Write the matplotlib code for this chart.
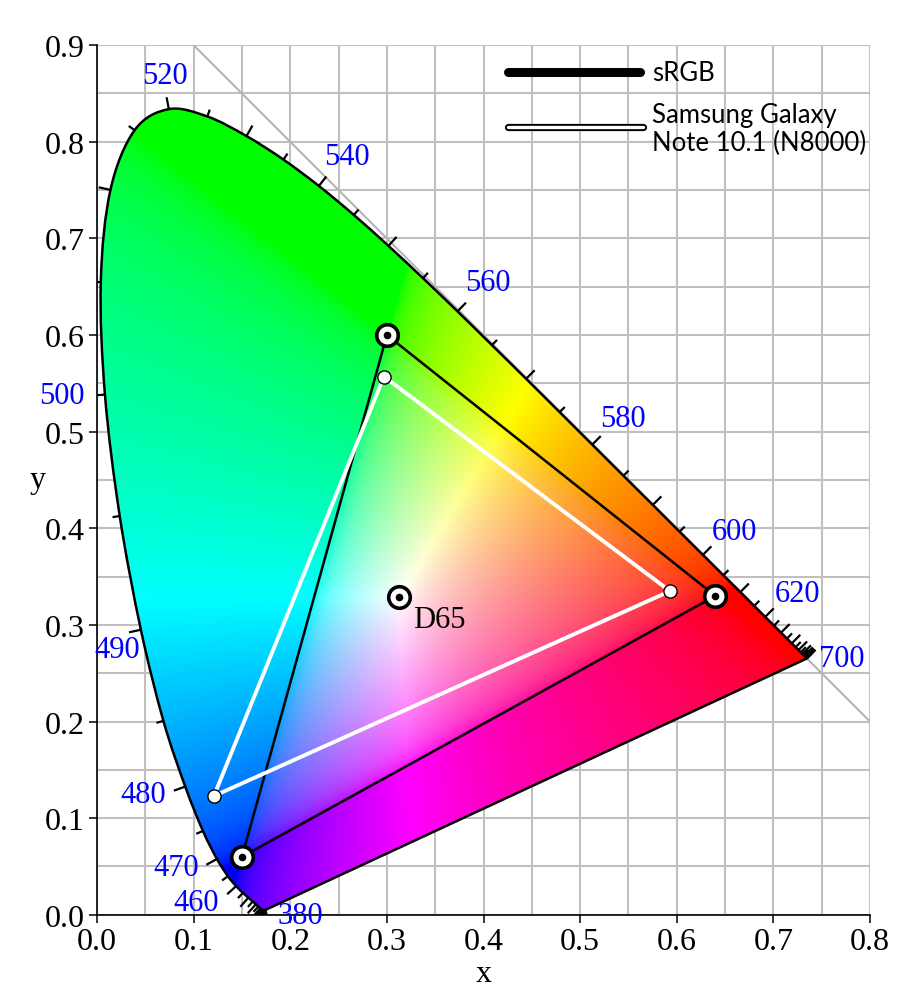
import numpy as np
import matplotlib
matplotlib.use("Agg")
import matplotlib.pyplot as plt
from matplotlib.patches import PathPatch
from matplotlib.path import Path

# CIE 1931 spectral locus, 380-700 nm every 5 nm
wl = np.arange(380, 701, 5)
loc_x = [0.1741, 0.1740, 0.1738, 0.1736, 0.1733, 0.1730, 0.1726, 0.1721, 0.1714,
         0.1703, 0.1689, 0.1669, 0.1644, 0.1611, 0.1566, 0.1510, 0.1440, 0.1355,
         0.1241, 0.1096, 0.0913, 0.0687, 0.0454, 0.0235, 0.0082, 0.0039, 0.0139,
         0.0389, 0.0743, 0.1142, 0.1547, 0.1929, 0.2296, 0.2658, 0.3016, 0.3373,
         0.3731, 0.4087, 0.4441, 0.4788, 0.5125, 0.5448, 0.5752, 0.6029, 0.6270,
         0.6482, 0.6658, 0.6801, 0.6915, 0.7006, 0.7079, 0.7140, 0.7190, 0.7230,
         0.7260, 0.7283, 0.7300, 0.7311, 0.7320, 0.7327, 0.7334, 0.7340, 0.7344,
         0.7346, 0.7347]
loc_y = [0.0050, 0.0050, 0.0049, 0.0049, 0.0048, 0.0048, 0.0048, 0.0048, 0.0051,
         0.0058, 0.0069, 0.0086, 0.0109, 0.0138, 0.0177, 0.0227, 0.0297, 0.0399,
         0.0578, 0.0868, 0.1327, 0.2007, 0.2950, 0.4127, 0.5384, 0.6548, 0.7502,
         0.8120, 0.8338, 0.8262, 0.8059, 0.7816, 0.7543, 0.7243, 0.6923, 0.6589,
         0.6245, 0.5896, 0.5547, 0.5202, 0.4866, 0.4544, 0.4242, 0.3965, 0.3725,
         0.3514, 0.3340, 0.3197, 0.3083, 0.2993, 0.2920, 0.2859, 0.2809, 0.2770,
         0.2740, 0.2717, 0.2700, 0.2689, 0.2680, 0.2673, 0.2666, 0.2660, 0.2656,
         0.2654, 0.2653]

# wavelengths that get a blue label, with label offsets (points)
label_wl = [380, 460, 470, 480, 490, 500, 520, 540, 560, 580, 600, 620, 700]
label_off = {380: (25, -4), 460: (-29, -12), 470: (-29, -6), 480: (-30, -6),
             490: (-17, -14), 500: (-31, -1), 520: (-3, 24), 540: (20, 21),
             560: (22, 21), 580: (22, 19), 600: (23, 17), 620: (23, 17), 700: (25, 0)}

srgb_x = [0.64, 0.30, 0.15]
srgb_y = [0.33, 0.60, 0.06]
note_x = [0.593, 0.297, 0.121]
note_y = [0.335, 0.557, 0.123]
d65 = (0.3127, 0.3290)

loc_x = np.array(loc_x)
loc_y = np.array(loc_y)

fig = plt.figure(figsize=(9, 9.95), dpi=100)
ax = fig.add_axes([0.1078, 0.0794, 0.8589, 0.8744])
ax.set_xlim(0, 0.8)
ax.set_ylim(0, 0.9)
ax.set_aspect("equal", adjustable="box")

serif = "Liberation Serif"

# rejilla cada 0.05
ax.set_xticks(np.arange(0, 0.81, 0.1))
ax.set_yticks(np.arange(0, 0.91, 0.1))
ax.set_xticks(np.arange(0, 0.81, 0.05), minor=True)
ax.set_yticks(np.arange(0, 0.91, 0.05), minor=True)
ax.grid(True, which="both", color="#c0c0c0", linewidth=1.5, zorder=0)
ax.set_axisbelow(True)
ax.tick_params(which="minor", length=0)
ax.tick_params(which="major", direction="out", length=6, width=1.1, color="black",
               labelsize=23, pad=3)
ax.set_xticklabels([f"{v:.1f}" for v in np.arange(0, 0.81, 0.1)], fontfamily=serif)
ax.set_yticklabels([f"{v:.1f}" for v in np.arange(0, 0.91, 0.1)], fontfamily=serif)
for s in ["top", "right"]:
    ax.spines[s].set_visible(False)
for s in ["left", "bottom"]:
    ax.spines[s].set_linewidth(1.2)
    ax.spines[s].set_zorder(5)

ax.set_xlabel("x", fontsize=23, fontfamily=serif)
ax.set_ylabel("y", fontsize=23, fontfamily=serif, rotation=0)
ax.xaxis.label.set_va("center")
ax.yaxis.label.set_va("center")
ax.yaxis.label.set_ha("center")
ax.xaxis.set_label_coords(0.5, -0.068)
ax.yaxis.set_label_coords(-0.0763, 0.5)

# recta x + y = 1
ax.plot([0.1, 0.8], [0.9, 0.2], color="#b4b4b4", lw=1.5, zorder=1)

# contorno suave del locus (Bezier a traves de los puntos medidos) + linea de purpuras
pts = np.column_stack([loc_x, loc_y])
n = len(pts)
verts = [pts[0]]
codes = [Path.MOVETO]
for i in range(n - 1):
    p_prev = pts[max(i - 1, 0)]
    p_next2 = pts[min(i + 2, n - 1)]
    c1 = pts[i] + (pts[i + 1] - p_prev) / 6
    c2 = pts[i + 1] - (p_next2 - pts[i]) / 6
    verts += [c1, c2, pts[i + 1]]
    codes += [Path.CURVE4] * 3
verts += [pts[0], pts[0]]
codes += [Path.LINETO, Path.CLOSEPOLY]
locus = PathPatch(Path(verts, codes), facecolor="none", edgecolor="black", lw=1.8,
                  zorder=4, joinstyle="round")
ax.add_patch(locus)

# relleno de color del diagrama
gx = np.linspace(0, 0.8, 800)
gy = np.linspace(0.0005, 0.9, 900)
XX, YY = np.meshgrid(gx, gy)
X = XX / YY
Z = (1 - XX - YY) / YY
M = np.array([[3.2406, -1.5372, -0.4986],
              [-0.9689, 1.8758, 0.0415],
              [0.0557, -0.2040, 1.0570]])
rgb = np.stack([X, np.ones_like(X), Z], axis=-1) @ M.T
rgb = np.clip(rgb, 0, None)
rgb = rgb / np.maximum(rgb.max(axis=-1, keepdims=True), 1e-9)
rgb = np.where(rgb <= 0.0031308, 12.92 * rgb, 1.055 * np.power(rgb, 1 / 2.4) - 0.055)
rgb = np.clip(rgb, 0, 1)
im = ax.imshow(rgb, origin="lower", extent=(0, 0.8, 0, 0.9), interpolation="bilinear",
               zorder=2, aspect="equal")
im.set_clip_path(locus)

# marcas de longitud de onda, perpendiculares al locus
dx = np.gradient(loc_x)
dy = np.gradient(loc_y)
nrm = np.hypot(dx, dy)
ox, oy = -dy / nrm, dx / nrm
for i, w in enumerate(wl):
    ln = 0.0125 if w % 10 == 0 else 0.0075
    ax.plot([loc_x[i], loc_x[i] + ox[i] * ln], [loc_y[i], loc_y[i] + oy[i] * ln],
            color="black", lw=1.6, zorder=4, solid_capstyle="butt")
for w in label_wl:
    i = list(wl).index(w)
    ax.annotate(str(w), (loc_x[i], loc_y[i]), xytext=label_off[w], textcoords="offset points",
                ha="center", va="center", color="#0000ff", fontsize=22, fontfamily=serif,
                zorder=6)

# triangulo sRGB
tx = srgb_x + srgb_x[:1]
ty = srgb_y + srgb_y[:1]
ax.plot(tx, ty, color="black", lw=1.8, zorder=5)
# triangulo Samsung
nx = note_x + note_x[:1]
ny = note_y + note_y[:1]
ax.plot(nx, ny, color="white", lw=2.8, zorder=6)
ax.plot(note_x, note_y, "o", ms=9.5, mfc="white", mec="black", mew=1, zorder=7)

# marcadores tipo diana
bx = srgb_x + [d65[0]]
by = srgb_y + [d65[1]]
ax.plot(bx, by, "o", ms=15.5, mfc="white", mec="black", mew=2.6, zorder=8)
ax.plot(bx, by, "o", ms=5.5, mfc="black", mec="black", mew=0, zorder=9)
ax.annotate("D65", d65, xytext=(10, -16), textcoords="offset points", ha="left",
            va="center", fontsize=22, fontfamily=serif, zorder=9)

# leyenda
sans = "Lato"
ax.plot([0.532, 0.702], [0.969, 0.969], transform=ax.transAxes, color="black", lw=6.5,
        solid_capstyle="round", zorder=10, clip_on=False)
ax.text(0.718, 0.969, "sRGB", transform=ax.transAxes, fontsize=18.5, fontfamily=sans,
        ha="left", va="center", zorder=10)
ax.plot([0.532, 0.706], [0.906, 0.906], transform=ax.transAxes, color="black", lw=5.2,
        solid_capstyle="round", zorder=10, clip_on=False)
ax.plot([0.532, 0.706], [0.906, 0.906], transform=ax.transAxes, color="white", lw=2.4,
        solid_capstyle="round", zorder=11, clip_on=False)
ax.text(0.718, 0.904, "Samsung Galaxy\nNote 10.1 (N8000)", transform=ax.transAxes,
        fontsize=18.5, fontfamily=sans, ha="left", va="center", linespacing=1.18, zorder=10)

fig.savefig("out.png", dpi=100)
